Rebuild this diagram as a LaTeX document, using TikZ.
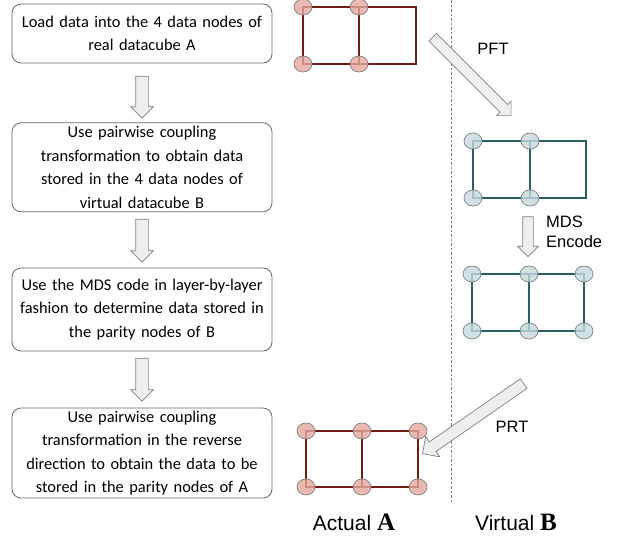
\documentclass[tikz,border=0pt]{standalone}
\usepackage{fontspec}
\setmainfont{Carlito}
\newfontfamily\arialfont{Liberation Sans}
\newfontfamily\seriffont{Liberation Serif}
\usetikzlibrary{shapes.arrows,shapes.geometric}
\definecolor{boxline}{HTML}{666666}
\definecolor{arrfill}{HTML}{EEEEEE}
\definecolor{arrline}{HTML}{808080}
\definecolor{redline}{HTML}{6E1E14}
\definecolor{redfill}{HTML}{E3A89F}
\definecolor{tealline}{HTML}{2A5F66}
\definecolor{tealfill}{HTML}{C5DADD}
\definecolor{nodeline}{HTML}{7F7F7F}
\tikzset{
  stepbox/.style={draw=boxline, line width=0.8pt, rounded corners=9pt, minimum width=260pt,
    text width=256pt, align=center, inner sep=0pt,
    font=\fontsize{16.4}{23.5}\selectfont},
  hollow/.style 2 args={single arrow, draw=arrline, fill=arrfill, line width=0.7pt,
    inner xsep=0pt, inner ysep=#1, single arrow head extend=#2, anchor=center},
  redgrid/.style={draw=redline, line width=1.4pt},
  tealgrid/.style={draw=tealline, line width=1.4pt},
  rdot/.style={ellipse, draw=nodeline, line width=0.7pt, fill=redfill, fill opacity=0.8,
    minimum width=18pt, minimum height=16pt, inner sep=0pt},
  tdot/.style={ellipse, draw=nodeline, line width=0.7pt, fill=tealfill, fill opacity=0.8,
    minimum width=18pt, minimum height=16pt, inner sep=0pt},
  lbl/.style={font=\arialfont\fontsize{16.5}{20.5}\selectfont, inner sep=0pt},
  biglbl/.style={font=\arialfont\fontsize{21}{24}\selectfont, inner sep=0pt}
}
\newcommand{\bigserif}[1]{{\seriffont\bfseries\fontsize{25}{25}\selectfont #1}}
\begin{document}
\begin{tikzpicture}[x=1pt,y=-1pt]
\useasboundingbox (0,0) rectangle (619,542);
% dashed separator
\coordinate (dtop) at (451,0);
\coordinate (dbot) at (451,503);
\draw[arrline, line width=0.7pt, dash pattern=on 2.5pt off 2pt] (dtop) -- (dbot);

% left flow boxes
\node[stepbox, minimum height=59pt] (b1) at (142,33.5) {Load data into the 4 data nodes of\\ real datacube A};
\node[stepbox, minimum height=89pt] (b2) at (142,167.3) {Use pairwise coupling\\ transformation to obtain data\\ stored in the 4 data nodes of\\ virtual datacube B};
\node[stepbox, minimum height=83pt] (b3) at (142,309.5) {Use the MDS code in layer-by-layer\\ fashion to determine data stored in\\ the parity nodes of B};
\node[stepbox, minimum height=90pt] (b4) at (142,453) {Use pairwise coupling\\ transformation in the reverse\\ direction to obtain the data to be\\ stored in the parity nodes of A};

% down arrows between boxes
\node[hollow={6pt}{5pt}, minimum height=42pt, rotate=-90] (a1) at (142,94) {};
\node[hollow={6pt}{5pt}, minimum height=43pt, rotate=-90] (a2) at (142,237.5) {};
\node[hollow={6pt}{5pt}, minimum height=43pt, rotate=-90] (a3) at (142,376.5) {};

% top red grid (actual A, data)
\draw[redgrid] (303,7) rectangle (416,64);
\draw[redgrid] (359,7) -- (359,64);
\node[rdot] (ra1) at (303,7) {};
\node[rdot] (ra2) at (359,7) {};
\node[rdot] (ra3) at (303,64) {};
\node[rdot] (ra4) at (359,64) {};

% PFT arrow
\node[hollow={5pt}{5pt}, minimum height=111pt, rotate=-45] (pft) at (470,74.5) {};
\node[lbl] (pftl) at (493,49) {PFT};

% teal grid 1
\draw[tealgrid] (473,141) rectangle (586,198);
\draw[tealgrid] (530,141) -- (530,198);
\node[tdot] (t1) at (473,141) {};
\node[tdot] (t2) at (530,141) {};
\node[tdot] (t3) at (473,198) {};
\node[tdot] (t4) at (530,198) {};

% MDS encode arrow
\node[hollow={5pt}{5pt}, minimum height=40pt, rotate=-90] (mds) at (528,234) {};
\node[lbl, align=left, anchor=west] (mdsl) at (546,232) {MDS\\Encode};

% teal grid 2
\draw[tealgrid] (472,274) rectangle (584,331);
\draw[tealgrid] (529,274) -- (529,331);
\node[tdot] (u1) at (472,274) {};
\node[tdot] (u2) at (529,274) {};
\node[tdot] (u3) at (584,274) {};
\node[tdot] (u4) at (472,331) {};
\node[tdot] (u5) at (529,331) {};
\node[tdot] (u6) at (584,331) {};

% PRT arrow
\node[hollow={5.5pt}{6.5pt}, minimum height=123pt, rotate=214.7] (prt) at (475.5,417) {};
\node[lbl] (prtl) at (512,427) {PRT};

% bottom red grid
\draw[redgrid] (306,431) rectangle (418,487);
\draw[redgrid] (362,431) -- (362,487);
\node[rdot] (s1) at (306,431) {};
\node[rdot] (s2) at (362,431) {};
\node[rdot] (s3) at (418,431) {};
\node[rdot] (s4) at (306,487) {};
\node[rdot] (s5) at (362,487) {};
\node[rdot] (s6) at (418,487) {};

% bottom labels
\node[biglbl] (act) at (354,522) {Actual \bigserif{A}};
\node[biglbl] (vir) at (516,522) {Virtual \bigserif{B}};
\end{tikzpicture}
\end{document}
